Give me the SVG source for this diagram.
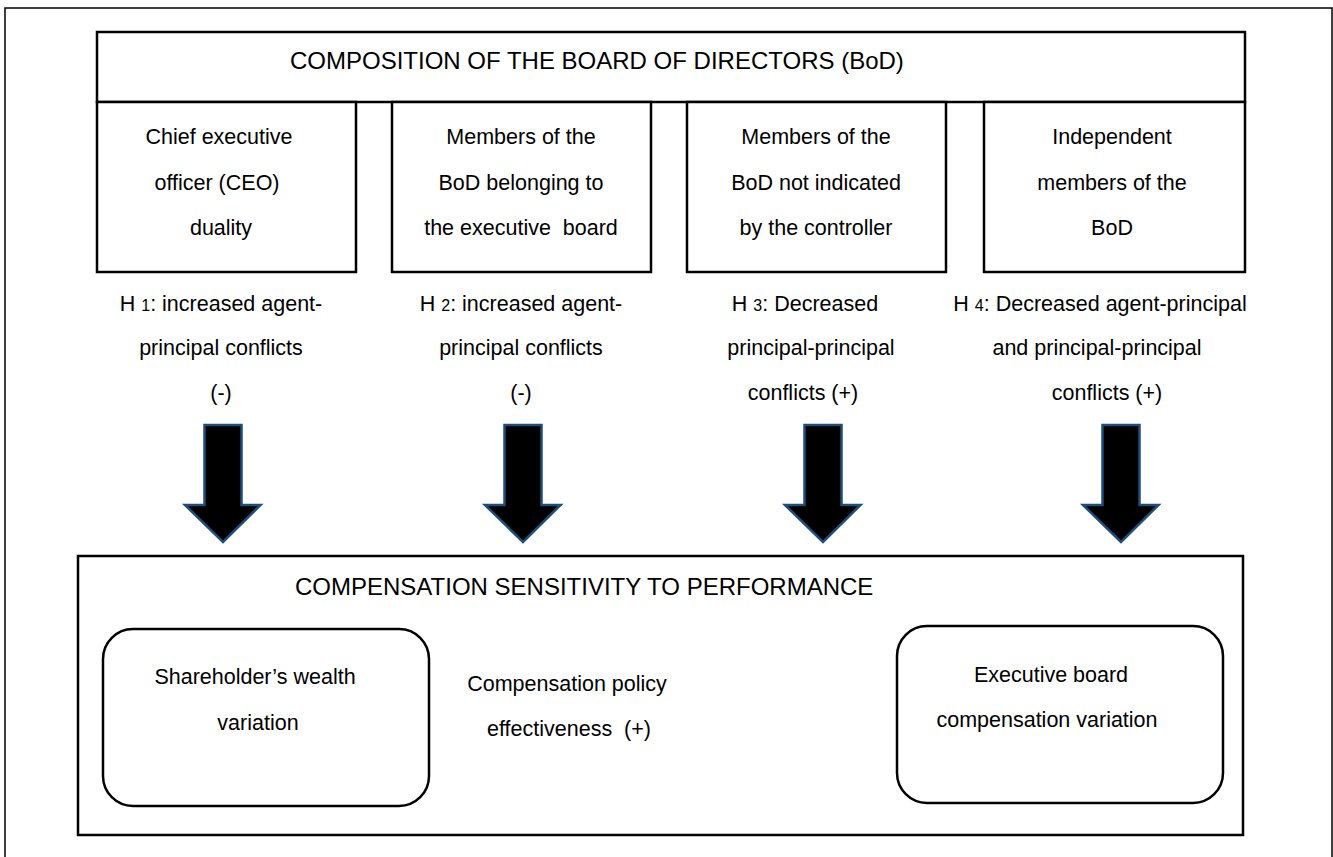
<svg xmlns="http://www.w3.org/2000/svg" width="1333" height="857" viewBox="0 0 1333 857">
<style>
.t{font-family:"Liberation Sans",Arial,sans-serif;font-size:21.5px;fill:#000;text-anchor:middle;white-space:pre}
.h{font-family:"Liberation Sans",Arial,sans-serif;font-size:24px;fill:#000}
.box{fill:#fff;stroke:#000;stroke-width:2.5}
.rbox{fill:#fff;stroke:#000;stroke-width:2.5}
.arr{fill:#000;stroke:#1f4e79;stroke-width:2.5;stroke-linejoin:miter}
.sub{font-size:16px}
</style>
<rect x="5" y="8" width="1327" height="870" fill="#fff" stroke="#000" stroke-width="1.5"/>

<g id="bod">
<rect class="box" x="97" y="32" width="1148" height="70"/>
<text class="h" x="290" y="69">COMPOSITION OF THE BOARD OF DIRECTORS (BoD)</text>
</g>
<g id="ceo">
<rect class="box" x="97" y="102" width="259" height="170"/>
<text class="t" x="219" y="144">Chief executive</text>
<text class="t" x="217" y="190">officer (CEO)</text>
<text class="t" x="221" y="235">duality</text>
</g>
<g id="exec">
<rect class="box" x="392" y="102" width="259" height="170"/>
<text class="t" x="521" y="144">Members of the</text>
<text class="t" x="521" y="190">BoD belonging to</text>
<text class="t" x="521" y="235" xml:space="preserve">the executive  board</text>
</g>
<g id="notctrl">
<rect class="box" x="687" y="102" width="259" height="170"/>
<text class="t" x="816" y="144">Members of the</text>
<text class="t" x="816" y="190">BoD not indicated</text>
<text class="t" x="816" y="235">by the controller</text>
</g>
<g id="indep">
<rect class="box" x="984" y="102" width="261" height="170"/>
<text class="t" x="1112" y="144">Independent</text>
<text class="t" x="1112" y="190">members of the</text>
<text class="t" x="1112" y="235">BoD</text>
</g>

<g id="h1">
<text class="t" x="221" y="311">H <tspan class="sub">1</tspan>: increased agent-</text>
<text class="t" x="221" y="355">principal conflicts</text>
<text class="t" x="221" y="400">(-)</text>
</g>
<g id="h2">
<text class="t" x="521" y="311">H <tspan class="sub">2</tspan>: increased agent-</text>
<text class="t" x="521" y="355">principal conflicts</text>
<text class="t" x="521" y="400">(-)</text>
</g>
<g id="h3">
<text class="t" x="805" y="311">H <tspan class="sub">3</tspan>: Decreased</text>
<text class="t" x="811" y="355">principal-principal</text>
<text class="t" x="803" y="400">conflicts (+)</text>
</g>
<g id="h4">
<text class="t" x="1100" y="311">H <tspan class="sub">4</tspan>: Decreased agent-principal</text>
<text class="t" x="1097" y="355">and principal-principal</text>
<text class="t" x="1107" y="400">conflicts (+)</text>
</g>

<g id="connectors">
<path class="arr" d="M204.5,425 h37 v80 h19 L223,542 L185,505 h19.5 Z"/>
<path class="arr" d="M504.5,425 h37 v80 h19 L523,542 L485,505 h19.5 Z"/>
<path class="arr" d="M804.5,425 h37 v80 h19 L823,542 L785,505 h19.5 Z"/>
<path class="arr" d="M1102.5,425 h37 v80 h19 L1121,542 L1083,505 h19.5 Z"/>
<path class="arr" d="M747,694 H825 V675 L862,712 L825,749 V731 H747 Z"/>
</g>

<g id="csp">
<rect class="box" x="78" y="556" width="1165" height="279"/>
<text class="h" x="295" y="595">COMPENSATION SENSITIVITY TO PERFORMANCE</text>
</g>
<g id="wealth">
<rect class="rbox" x="103" y="629" width="326" height="177" rx="30" ry="30"/>
<text class="t" x="255" y="684">Shareholder’s wealth</text>
<text class="t" x="258" y="730">variation</text>
</g>
<g id="policy">
<text class="t" x="567" y="691">Compensation policy</text>
<text class="t" x="569" y="736" xml:space="preserve">effectiveness  (+)</text>
</g>
<g id="execcomp">
<rect class="rbox" x="897" y="626" width="326" height="177" rx="30" ry="30"/>
<text class="t" x="1051" y="682">Executive board</text>
<text class="t" x="1047" y="727">compensation variation</text>
</g>
</svg>
